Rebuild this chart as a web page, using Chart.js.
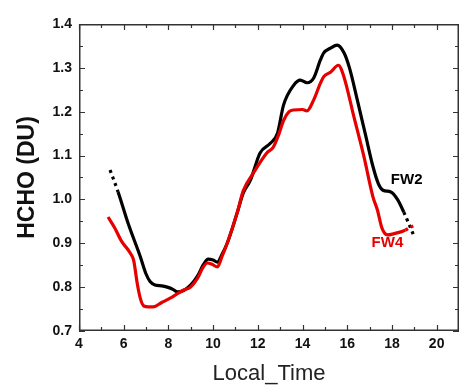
<!DOCTYPE html>
<html lang="en">
<head>
<meta charset="UTF-8">
<title>HCHO diurnal cycle</title>
<script src="https://cdn.jsdelivr.net/npm/chart.js"></script>
<style>
    html, body { margin: 0; padding: 0; background: #fff; }
    #wrap { width: 459px; height: 387px; }
</style>
</head>
<body>
<div id="wrap"><canvas id="hcho" width="459" height="387"></canvas></div>
<script>
    // FW2 (black) hourly-smoothed HCHO column
    var fw2Time = [5.39, 5.75, 6.2, 6.74, 7.0, 7.18, 7.4, 7.7, 7.95, 8.2, 8.4, 8.7, 9.0, 9.3, 9.55, 9.78, 10.0, 10.19,
        10.4, 10.63, 11.08, 11.35, 11.67, 12.1, 12.56, 12.88, 13.15, 13.6, 13.9, 14.2, 14.5, 14.8, 14.95, 15.25, 15.55,
        15.85, 16.1, 16.45, 16.8, 17.15, 17.4, 17.6, 17.95, 18.26, 18.53, 18.75, 18.98];
    var fw2Value = [1.067, 1.017, 0.945, 0.87, 0.83, 0.813, 0.805, 0.803, 0.80, 0.795, 0.789, 0.793, 0.805, 0.825, 0.85, 0.864, 0.862, 0.857,
        0.875, 0.90, 0.97, 1.015, 1.044, 1.106, 1.128, 1.151, 1.215, 1.26, 1.272, 1.266, 1.277, 1.318, 1.334, 1.345, 1.352,
        1.335, 1.30, 1.227, 1.151, 1.075, 1.035, 1.021, 1.017, 0.999, 0.971, 0.945, 0.917];
    var fw2Solid = [5.75, 18.53];

    // FW4 (red)
    var fw4Time = [5.30, 5.6, 5.9, 6.29, 6.45, 6.6, 6.74, 6.9, 7.1, 7.32, 7.7, 8.08, 8.4, 8.66, 8.98, 9.3, 9.55, 9.74, 9.95, 10.19,
        10.4, 10.63, 11.08, 11.35, 11.8, 12.4, 12.7, 12.95, 13.15, 13.4, 13.6, 14.0, 14.2, 14.5, 14.8, 14.95, 15.25, 15.6,
        15.85, 16.3, 16.75, 17.15, 17.35, 17.55, 17.8, 18.1, 18.4, 18.6, 18.84, 19.07];
    var fw4Value = [0.96, 0.935, 0.905, 0.878, 0.86, 0.81, 0.775, 0.757, 0.755, 0.755, 0.765, 0.775, 0.785, 0.793, 0.80, 0.82, 0.845, 0.855, 0.852, 0.846,
        0.87, 0.90, 0.97, 1.02, 1.06, 1.106, 1.12, 1.15, 1.18, 1.20, 1.204, 1.205, 1.202, 1.227, 1.265, 1.28, 1.29, 1.306,
        1.28, 1.188, 1.097, 1.006, 0.976, 0.935, 0.919, 0.922, 0.926, 0.93, 0.937, 0.942];
    var fw4Solid = [5.30, 18.6];

    var xTicks = [4, 6, 8, 10, 12, 14, 16, 18, 20];
    var yTicks = [0.7, 0.8, 0.9, 1.0, 1.1, 1.2, 1.3, 1.4];

    var FONT = "'Liberation Sans', Arial, sans-serif";

    function points(t, v) {
        return t.map(function (x, i) { return { x: x, y: v[i] }; });
    }

    function dashOutside(range, dash) {
        return function (ctx) {
            if (ctx.p0.parsed.x < range[0] - 1e-6 || ctx.p1.parsed.x > range[1] + 1e-6) return dash;
            return undefined;
        };
    }

    // boxed frame with inward ticks on all four sides
    var framePlugin = {
        id: 'frame',
        afterDraw: function (chart) {
            var c = chart.ctx, a = chart.chartArea;
            var xs = chart.scales.x, ys = chart.scales.y;
            c.save();
            c.strokeStyle = '#333';
            c.lineWidth = 1.5;
            c.strokeRect(a.left + 0.75, a.top + 0.75, a.right - a.left - 1.5, a.bottom - a.top - 1.5);
            c.lineWidth = 1.2;
            c.beginPath();
            for (var v = 4; v <= 21; v++) {
                var px = Math.round(xs.getPixelForValue(v)) + 0.5;
                var len = v % 2 === 0 ? 6 : 4;
                c.moveTo(px, a.bottom); c.lineTo(px, a.bottom - len);
                c.moveTo(px, a.top); c.lineTo(px, a.top + len);
            }
            for (var k = 0; k <= 14; k++) {
                var val = 0.7 + k * 0.05;
                var py = Math.round(ys.getPixelForValue(val)) + 0.5;
                var l2 = k % 2 === 0 ? 6 : 4;
                c.moveTo(a.left, py); c.lineTo(a.left + l2, py);
                c.moveTo(a.right, py); c.lineTo(a.right - l2, py);
            }
            c.stroke();
            c.restore();
        }
    };

    // series names next to the curve ends
    var seriesLabels = [
        { text: 'FW2', x: 17.95, y: 1.044, color: '#000' },
        { text: 'FW4', x: 17.09, y: 0.90, color: '#e60000' }
    ];
    var labelPlugin = {
        id: 'seriesLabels',
        afterDatasetsDraw: function (chart) {
            var c = chart.ctx;
            c.save();
            c.font = 'bold 15px ' + FONT;
            c.textAlign = 'left';
            c.textBaseline = 'middle';
            seriesLabels.forEach(function (l) {
                c.fillStyle = l.color;
                c.fillText(l.text, chart.scales.x.getPixelForValue(l.x), chart.scales.y.getPixelForValue(l.y));
            });
            c.restore();
        }
    };

    var ctx = document.getElementById('hcho').getContext('2d');
    var chart = new Chart(ctx, {
        type: 'line',
        data: {
            datasets: [
                {
                    label: 'FW4',
                    data: points(fw4Time, fw4Value),
                    borderColor: '#e60000',
                    borderWidth: 3.2,
                    pointRadius: 0,
                    cubicInterpolationMode: 'monotone',
                    borderJoinStyle: 'round',
                    segment: { borderDash: dashOutside(fw4Solid, [3, 3]) }
                },
                {
                    label: 'FW2',
                    data: points(fw2Time, fw2Value),
                    borderColor: '#000',
                    borderWidth: 3.2,
                    pointRadius: 0,
                    cubicInterpolationMode: 'monotone',
                    borderJoinStyle: 'round',
                    segment: { borderDash: dashOutside(fw2Solid, [3, 4]) }
                }
            ]
        },
        options: {
            responsive: false,
            animation: false,
            devicePixelRatio: 1,
            layout: { padding: { top: 24, right: 0, left: 0, bottom: 0 } },
            plugins: { legend: { display: false }, tooltip: { enabled: false } },
            scales: {
                x: {
                    type: 'linear',
                    min: 4,
                    max: 21,
                    grid: { display: false, drawTicks: false },
                    border: { display: false },
                    afterBuildTicks: function (s) { s.ticks = xTicks.map(function (v) { return { value: v }; }); },
                    afterFit: function (s) { s.height = 56; },
                    ticks: {
                        color: '#111',
                        padding: 5,
                        maxRotation: 0,
                        font: { family: FONT, size: 14, weight: 'bold' },
                        callback: function (v) { return String(v); }
                    },
                    title: {
                        display: true,
                        text: 'Local_Time',
                        color: '#222',
                        padding: { top: 0, bottom: 0 },
                        font: { family: FONT, size: 22 }
                    }
                },
                y: {
                    min: 0.7,
                    max: 1.4,
                    grid: { display: false, drawTicks: false },
                    border: { display: false },
                    afterBuildTicks: function (s) { s.ticks = yTicks.map(function (v) { return { value: v }; }); },
                    afterFit: function (s) { s.width = 79; },
                    ticks: {
                        color: '#111',
                        padding: 7,
                        font: { family: FONT, size: 14, weight: 'bold' },
                        callback: function (v) { return Number(v).toFixed(1); }
                    },
                    title: {
                        display: true,
                        text: 'HCHO (DU)',
                        color: '#111',
                        padding: { top: 14, bottom: 0 },
                        font: { family: FONT, size: 23, weight: 'bold' }
                    }
                }
            }
        },
        plugins: [framePlugin, labelPlugin]
    });
</script>
</body>
</html>
